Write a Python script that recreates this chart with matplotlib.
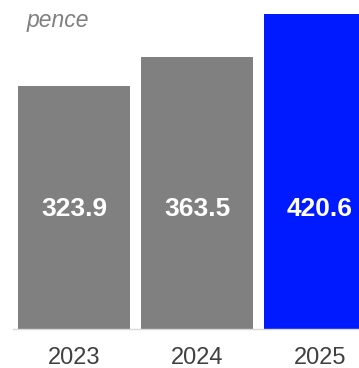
import matplotlib
matplotlib.use("Agg")
import matplotlib.pyplot as plt

plt.rcParams["font.family"] = ["Liberation Sans", "DejaVu Sans"]

# Data
years = ["2023", "2024", "2025"]
values = [323.9, 363.5, 420.6]
colors = ["#808080", "#808080", "#001AFF"]
unit = "pence"

fig = plt.figure(figsize=(3.59, 3.68), dpi=100)
ax = fig.add_axes([13 / 359, 39 / 368, 1 - 13 / 359, 1 - 39 / 368])

x = range(len(years))
ax.bar(x, values, width=0.91, color=colors)

ax.set_xlim(-0.496, 2.317)
ax.set_ylim(0, 439.3)

label_y = 160.5
for xi, v in zip(x, values):
    ax.text(xi, label_y, f"{v:.1f}", ha="center", va="center",
            color="white", fontsize=19, fontweight="bold")

ax.set_xticks(list(x))
ax.set_xticklabels(years, fontsize=17, color="#404040")
ax.tick_params(axis="x", length=0, pad=13)
ax.set_yticks([])

for side in ["top", "right", "left"]:
    ax.spines[side].set_visible(False)
ax.spines["bottom"].set_color("#D9D9D9")
ax.spines["bottom"].set_linewidth(1)

fig.text(57.5 / 359, 1 - 27 / 368, unit, ha="center", va="baseline",
         fontsize=16.5, style="italic", color="#808080")

fig.savefig("out.png", dpi=100)
